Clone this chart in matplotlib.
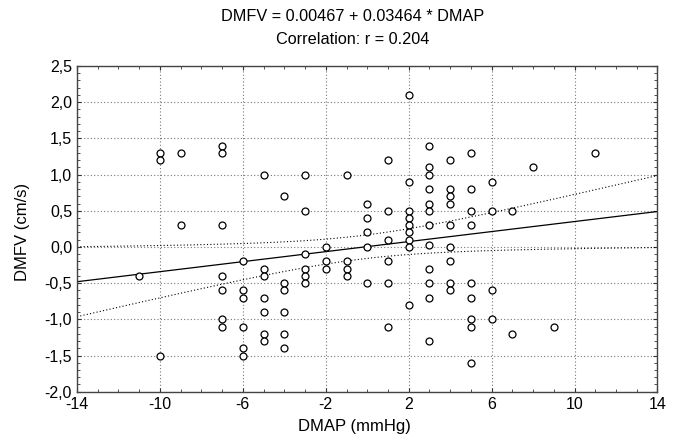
import numpy as np
import matplotlib
matplotlib.use('Agg')
import matplotlib.pyplot as plt
from matplotlib.ticker import FuncFormatter, MultipleLocator

plt.rcParams['font.family'] = ['Liberation Sans', 'DejaVu Sans']

# data, grouped by DMAP value
dmap_levels = [-11, -10, -9, -7, -6, -5, -4, -3, -2, -1, 0, 1, 2, 3, 4, 5, 6, 7, 8, 9, 11]
dmfv_groups = [
    [-0.4],
    [1.3, 1.2, -1.5],
    [1.3, 0.3],
    [1.4, 1.3, 0.3, -0.4, -0.6, -1.0, -1.1],
    [-0.2, -0.6, -0.7, -1.1, -1.4, -1.5],
    [1.0, -0.3, -0.4, -0.7, -0.9, -1.2, -1.3],
    [0.7, -0.5, -0.6, -0.9, -1.2, -1.4],
    [1.0, 0.5, -0.1, -0.3, -0.4, -0.5],
    [0.0, -0.2, -0.3],
    [1.0, -0.2, -0.3, -0.4],
    [0.6, 0.4, 0.2, 0.0, -0.5],
    [1.2, 0.5, 0.1, -0.2, -0.5, -1.1],
    [2.1, 0.9, 0.5, 0.4, 0.3, 0.2, 0.1, 0.0, -0.8],
    [1.4, 1.1, 1.0, 0.8, 0.6, 0.5, 0.3, 0.03, -0.3, -0.5, -0.7, -1.3],
    [1.2, 0.8, 0.7, 0.6, 0.3, 0.0, -0.2, -0.5, -0.6],
    [1.3, 0.8, 0.5, 0.3, -0.5, -0.7, -1.0, -1.1, -1.6],
    [0.9, 0.5, -0.6, -1.0],
    [0.5, -1.2],
    [1.1],
    [-1.1],
    [1.3],
]
intercept = 0.00467
slope = 0.03464
r_value = 0.204
xticks = [-14, -10, -6, -2, 2, 6, 10, 14]

x = np.concatenate([[lv] * len(g) for lv, g in zip(dmap_levels, dmfv_groups)]).astype(float)
y = np.concatenate(dmfv_groups)

# fitted line + 95% confidence band of the mean
xs = np.linspace(-14, 14, 200)
yhat = intercept + slope * xs
n = len(x)
resid = y - (intercept + slope * x)
s = np.sqrt(np.sum(resid ** 2) / (n - 2))
sxx = np.sum((x - x.mean()) ** 2)
half = 1.984 * s * np.sqrt(1.0 / n + (xs - x.mean()) ** 2 / sxx)

fig = plt.figure(figsize=(6.8, 4.38), dpi=100)
ax = fig.add_axes([0.1132, 0.1057, 0.8537, 0.7436])

ax.plot(xs, yhat, color='black', lw=0.9)
ax.plot(xs, yhat + half, color='black', lw=0.8, ls=(0, (1, 2)))
ax.plot(xs, yhat - half, color='black', lw=0.8, ls=(0, (1, 2)))
ax.plot(x, y, 'o', mfc='white', mec='black', ms=5, mew=0.9, zorder=3)

ax.set_xlim(-14, 14)
ax.set_ylim(-2.0, 2.5)
ax.set_xticks(xticks)
ax.xaxis.set_minor_locator(MultipleLocator(1))
ax.yaxis.set_major_locator(MultipleLocator(0.5))
ax.yaxis.set_minor_locator(MultipleLocator(0.1))
ax.yaxis.set_major_formatter(FuncFormatter(lambda v, p: f"{v:.1f}".replace('.', ',').replace('-0,0', '0,0')))
ax.xaxis.set_major_formatter(FuncFormatter(lambda v, p: f"{v:.0f}"))
ax.tick_params(which='both', direction='in', top=True, right=True, labelsize=11.5, color='#333333')
ax.tick_params(axis='x', which='major', pad=4)
ax.tick_params(axis='y', which='major', pad=3.5)
ax.tick_params(which='major', length=3, width=0.8)
ax.tick_params(which='minor', length=2, width=0.6)
ax.grid(True, which='major', color='#777777', ls=(0, (1, 2)), lw=0.8)
for sp in ax.spines.values():
    sp.set_color('#444444')
    sp.set_linewidth(1.0)

fig.text(354 / 680, 1 - 426.7 / 438, 'DMAP (mmHg)', fontsize=12, ha='center', va='center')
fig.text(23 / 680, 1 - 232 / 438, 'DMFV (cm/s)', fontsize=12, rotation=90, ha='center', va='center')
fig.text(353 / 680, 1 - 16.7 / 438, f'DMFV = {intercept:.5f} + {slope:.5f} * DMAP',
         fontsize=11.7, ha='center', va='center')
fig.text(353 / 680, 1 - 39 / 438, f'Correlation: r = {r_value:.3f}',
         fontsize=11.7, ha='center', va='center')

fig.savefig('out.png', dpi=100)
